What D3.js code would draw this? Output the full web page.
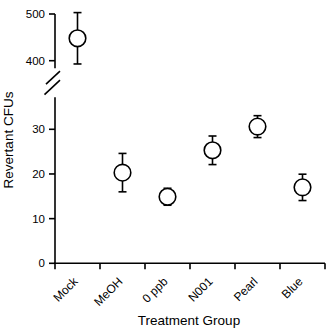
<!DOCTYPE html>
<html><head><meta charset="utf-8">
<script src="https://cdn.jsdelivr.net/npm/d3@7"></script>
<style>body{margin:0;background:#fff}svg{display:block}text{font-family:"Liberation Sans",Arial,sans-serif;fill:#000}</style>
</head><body><svg id="c" width="332" height="332"></svg>
<script>
const categories = ["Mock","MeOH","0 ppb","N001","Pearl","Blue"];
const means = [448, 20.3, 14.9, 25.3, 30.6, 17.0];
const errors = [55, 4.3, 1.9, 3.2, 2.45, 2.95];
const lowTicks = [0,10,20,30];
const highTicks = [400,500];
const lowDomain = [0, 37.2];
const highDomain = [384, 500];
const breakAt = 100; // values above this use the upper segment

const svg = d3.select("#c");
const x = d3.scaleBand().domain(categories).range([55,325]).padding(0);
const yLow = d3.scaleLinear().domain([0,30]).range([263.3,129.3]);
const yHigh = d3.scaleLinear().domain([400,500]).range([60.7,14]);
const y = v => v > breakAt ? yHigh(v) : yLow(v);
const sw = 1.6;

// y axis segments
const axisL = 55;
svg.append("line").attr("x1",axisL).attr("x2",axisL).attr("y1",yLow(lowDomain[0])).attr("y2",yLow(lowDomain[1])).attr("stroke","#000").attr("stroke-width",sw);
svg.append("line").attr("x1",axisL).attr("x2",axisL).attr("y1",yHigh(highDomain[0])).attr("y2",yHigh(highDomain[1])).attr("stroke","#000").attr("stroke-width",sw);
// break marks
[0,1].forEach(i=>{
  const yb = yHigh(highDomain[0]) + 3 + i*9;
  svg.append("line").attr("x1",axisL-9-i*1.5).attr("y1",yb+13+i*1.5).attr("x2",axisL+5).attr("y2",yb).attr("stroke","#000").attr("stroke-width",sw);
});
// y ticks
const yt = [...lowTicks.map(v=>({v,s:yLow})), ...highTicks.map(v=>({v,s:yHigh}))];
yt.forEach(t=>{
  const yy = t.s(t.v);
  svg.append("line").attr("x1",axisL-6).attr("x2",axisL).attr("y1",yy).attr("y2",yy).attr("stroke","#000").attr("stroke-width",sw);
  svg.append("text").attr("x",axisL-10).attr("y",yy).attr("dy","0.35em").attr("text-anchor","end").attr("font-size",11.5).text(t.v);
});

// x axis
const x0 = yLow(0);
svg.append("line").attr("x1",x.range()[0]-0.8).attr("x2",x.range()[1]).attr("y1",x0).attr("y2",x0).attr("stroke","#000").attr("stroke-width",sw);
const bounds = categories.map(c=>x(c)).concat([x.range()[1]]);
bounds.forEach(b=>{
  svg.append("line").attr("x1",b).attr("x2",b).attr("y1",x0).attr("y2",x0+6).attr("stroke","#000").attr("stroke-width",sw);
});
categories.forEach(c=>{
  const cx = x(c)+x.bandwidth()/2;
  svg.append("text").attr("transform",`translate(${cx-2},${x0+16}) rotate(-45)`).attr("text-anchor","end").attr("dy","0.35em").attr("font-size",12).text(c);
});

// points
const g = svg.append("g");
categories.forEach((c,i)=>{
  const cx = x(c)+x.bandwidth()/2;
  const m = means[i], e = errors[i];
  const yt = y(m+e), yb = y(m-e), ym = y(m);
  g.append("line").attr("x1",cx).attr("x2",cx).attr("y1",yt).attr("y2",yb).attr("stroke","#000").attr("stroke-width",sw);
  [yt,yb].forEach(yy=>g.append("line").attr("x1",cx-4).attr("x2",cx+4).attr("y1",yy).attr("y2",yy).attr("stroke","#000").attr("stroke-width",sw));
  g.append("circle").attr("cx",cx).attr("cy",ym).attr("r",8.3).attr("fill","#fff").attr("stroke","#000").attr("stroke-width",sw);
});

// titles
svg.append("text").attr("transform",`translate(13,140) rotate(-90)`).attr("text-anchor","middle").attr("font-size",13.5).text("Revertant CFUs");
svg.append("text").attr("x",189).attr("y",325).attr("text-anchor","middle").attr("font-size",13.5).text("Treatment Group");
</script></body></html>
